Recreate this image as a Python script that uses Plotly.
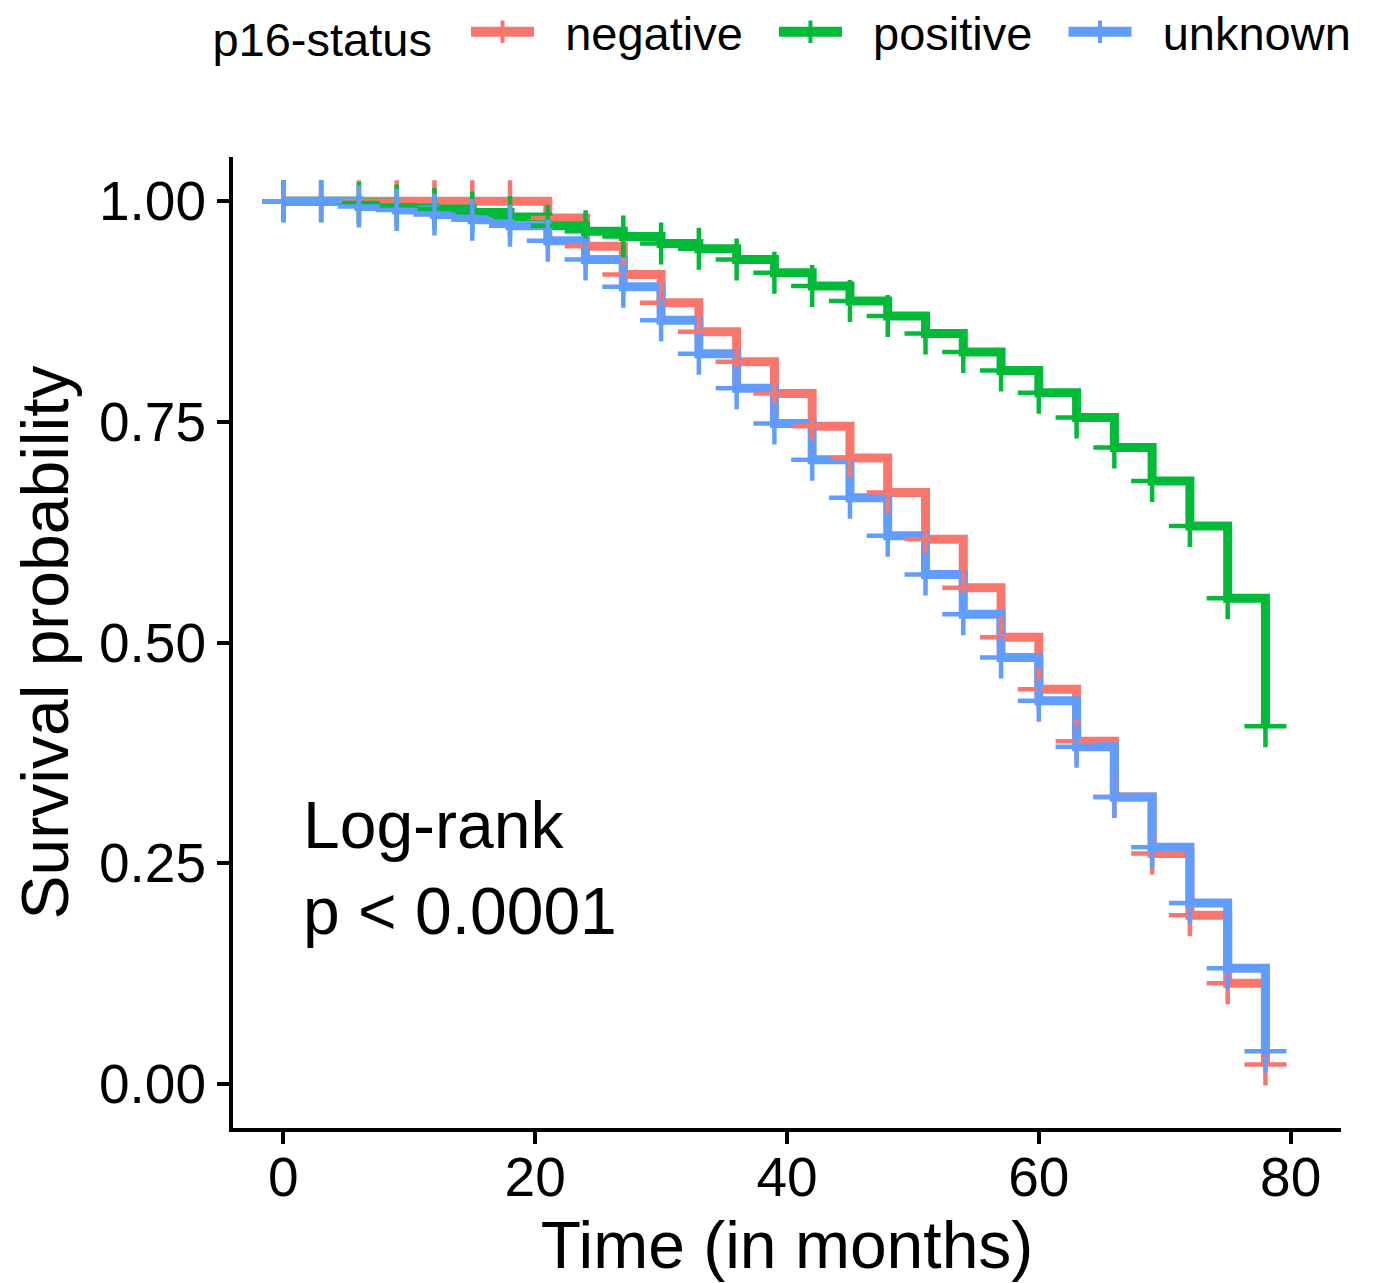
import plotly.graph_objects as go

# ---- data ----
months = [0, 3, 6, 9, 12, 15, 18, 21, 24, 27, 30, 33, 36, 39, 42, 45, 48, 51, 54, 57, 60, 63, 66, 69, 72, 75, 78]
negative = [1.0, 1.0, 1.0, 1.0, 1.0, 1.0, 1.0, 0.981, 0.949, 0.917, 0.885, 0.852, 0.818, 0.782, 0.745, 0.709,
            0.670, 0.617, 0.562, 0.506, 0.447, 0.388, 0.325, 0.261, 0.191, 0.114, 0.022]
positive = [1.0, 1.0, 0.998, 0.995, 0.991, 0.987, 0.982, 0.972, 0.966, 0.960, 0.952, 0.946, 0.934, 0.919, 0.904,
            0.887, 0.870, 0.850, 0.829, 0.808, 0.783, 0.755, 0.721, 0.683, 0.632, 0.550, 0.405]
unknown = [1.0, 1.0, 0.994, 0.990, 0.985, 0.979, 0.972, 0.955, 0.934, 0.903, 0.865, 0.827, 0.788, 0.748, 0.707,
           0.664, 0.621, 0.577, 0.532, 0.483, 0.434, 0.382, 0.325, 0.268, 0.205, 0.131, 0.037]
series_names = ["negative", "positive", "unknown"]
series_values = [negative, positive, unknown]
colors = ["#F8766D", "#00BA38", "#619CFF"]
x_ticks = [0, 20, 40, 60, 80]
y_ticks = [0.0, 0.25, 0.5, 0.75, 1.0]
y_tick_labels = ["0.00", "0.25", "0.50", "0.75", "1.00"]

FONT = "Liberation Sans, Arial, sans-serif"
NB = "\u00a0"

fig = go.Figure()

# step lines first (all strata), then censor crosses, as in survminer
for name, vals, col in zip(series_names, series_values, colors):
    fig.add_trace(go.Scatter(x=months, y=vals, mode="lines", line=dict(color=col, width=9, shape="hv"),
                             showlegend=False, hoverinfo="skip"))
for name, vals, col in zip(series_names, series_values, colors):
    fig.add_trace(go.Scatter(x=months, y=vals, mode="markers",
                             marker=dict(symbol="cross-thin", size=30, line=dict(color=col, width=4.5), color=col),
                             showlegend=False, hoverinfo="skip"))
# legend entries
for name, col in zip(series_names, colors):
    fig.add_trace(go.Scatter(x=[None], y=[None], mode="lines+markers", name=NB * 2 + name + NB * 2,
                             line=dict(color=col, width=12),
                             marker=dict(symbol="cross-thin", size=16, line=dict(color=col, width=4), color=col)))

fig.add_annotation(x=1.4, y=0.245, xref="x", yref="y", xanchor="left", yanchor="middle",
                   text="Log-rank<br>p < 0.0001", showarrow=False, align="left",
                   font=dict(family=FONT, size=66, color="black"))

fig.update_layout(
    width=1371, height=1275,
    margin=dict(l=225, r=38, t=149, b=155, autoexpand=False),
    paper_bgcolor="white", plot_bgcolor="white",
    font=dict(family=FONT, color="black"),
    legend=dict(orientation="h", x=0.5085, xanchor="center", yref="container", y=0.981, yanchor="middle",
                title=dict(text="p16-status" + NB * 2, font=dict(size=47)), font=dict(size=47),
                itemwidth=63, tracegroupgap=0),
    xaxis=dict(range=[-4, 84], tickvals=x_ticks, showgrid=False, zeroline=False, automargin=False,
               showline=True, linecolor="black", linewidth=4, ticks="outside", ticklen=12, tickwidth=4,
               tickcolor="black", tickfont=dict(size=55, family=FONT), ticklabelstandoff=-14,
               title=dict(text="Time (in months)", font=dict(size=66, family=FONT), standoff=13)),
    yaxis=dict(range=[-0.05, 1.05], tickvals=y_ticks, ticktext=y_tick_labels, showgrid=False, zeroline=False,
               automargin=False,
               showline=True, linecolor="black", linewidth=4, ticks="outside", ticklen=12, tickwidth=4,
               tickcolor="black", tickfont=dict(size=55, family=FONT),
               title=dict(text="Survival probability", font=dict(size=66, family=FONT), standoff=14)),
)

fig.write_html("out.html")
